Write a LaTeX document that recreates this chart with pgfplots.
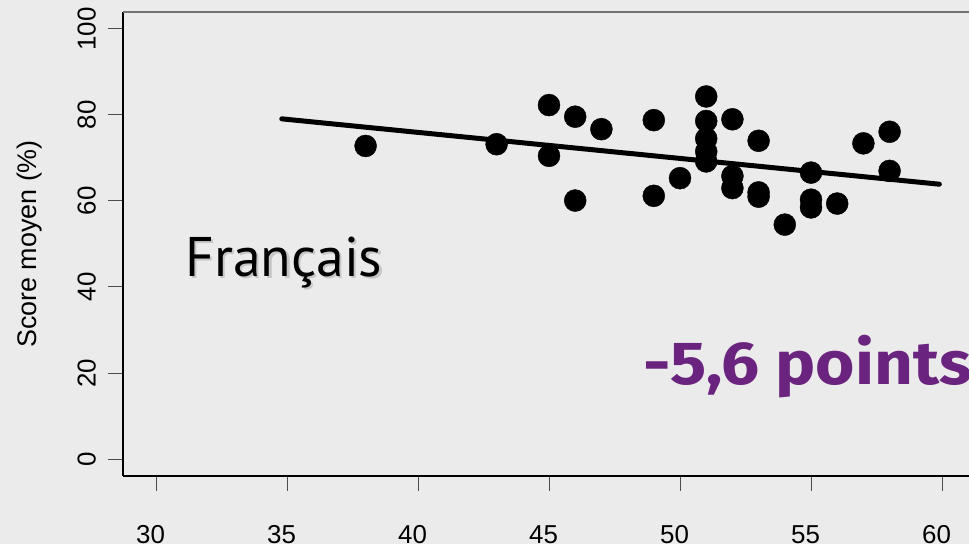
\documentclass[border=0pt]{standalone}
\usepackage{pgfplots}
\pgfplotsset{compat=1.18}
\usepackage{fontspec}
\setmainfont{Liberation Sans}
\newfontfamily\frfont{PT Sans}
\newfontfamily\ptfont{Fira Sans}
\definecolor{bg}{RGB}{235,235,235}
\definecolor{violetpt}{RGB}{106,35,126}
\begin{document}
\begin{tikzpicture}[x=1bp,y=1bp]
\useasboundingbox (0,0) rectangle (969,544);
\fill[bg] (0,0) rectangle (969,544);
\begin{axis}[
  at={(123bp,68bp)}, anchor=south west, scale only axis,
  width=852bp, height=464bp,
  xmin=28.74, xmax=61.26, ymin=-3.95, ymax=103.95,
  axis x line*=bottom, axis y line*=left,
  axis line style={-, black, line width=1.2bp},
  xtick={30,35,...,60}, ytick={0,20,...,100},
  tick align=outside, major tick length=15bp,
  tick style={black!70, line width=1bp},
  /pgf/number format/assume math mode=true,
  ticklabel style={font=\fontsize{26}{26}\selectfont},
  yticklabel style={rotate=90, anchor=south, inner sep=0pt, yshift=12bp},
  xticklabel style={anchor=north, inner sep=0pt, yshift=-34bp, xshift=-5.5bp},
  every axis y label/.style={at={(axis description cs:-0.1021,0.5)}, rotate=90, anchor=base},
  ylabel={Score moyen (\%)},
  ylabel style={font=\fontsize{27}{27}\selectfont},
]
\addplot[only marks, mark=*, mark size=11bp, black] coordinates {
(38,72.8)(43,73.2)(45,82.3)(45,70.5)(46,79.6)(46,60.1)(47,76.7)(49,78.8)(49,61.2)(50,65.3)
(51,84.3)(51,78.6)(51,74.5)(51,71.5)(51,69.2)
(52,79)(52,65.8)(52,63)
(53,74)(53,62)(53,61)
(54,54.5)
(55,66.6)(55,60.3)(55,58.5)
(56,59.4)(57,73.4)(58,76.1)(58,67)
};
\addplot[black, line width=5bp, line cap=round] coordinates {(34.8,79.1)(59.9,63.9)};
\draw[black!55, line width=1.2bp] (rel axis cs:0,1) -- (rel axis cs:1,1);
\end{axis}
\node[anchor=base west, inner sep=0pt, text=black!22] at (187.5,265) {\frfont\fontsize{56}{56}\selectfont Français};
\node[anchor=base west, inner sep=0pt] at (185,267) {\frfont\fontsize{56}{56}\selectfont Français};
\node[anchor=base west, inner sep=0pt, text=violetpt, xscale=1.11] at (643,159) {\ptfont\bfseries\fontsize{61}{61}\selectfont -5,6 points};
\end{tikzpicture}
\end{document}
